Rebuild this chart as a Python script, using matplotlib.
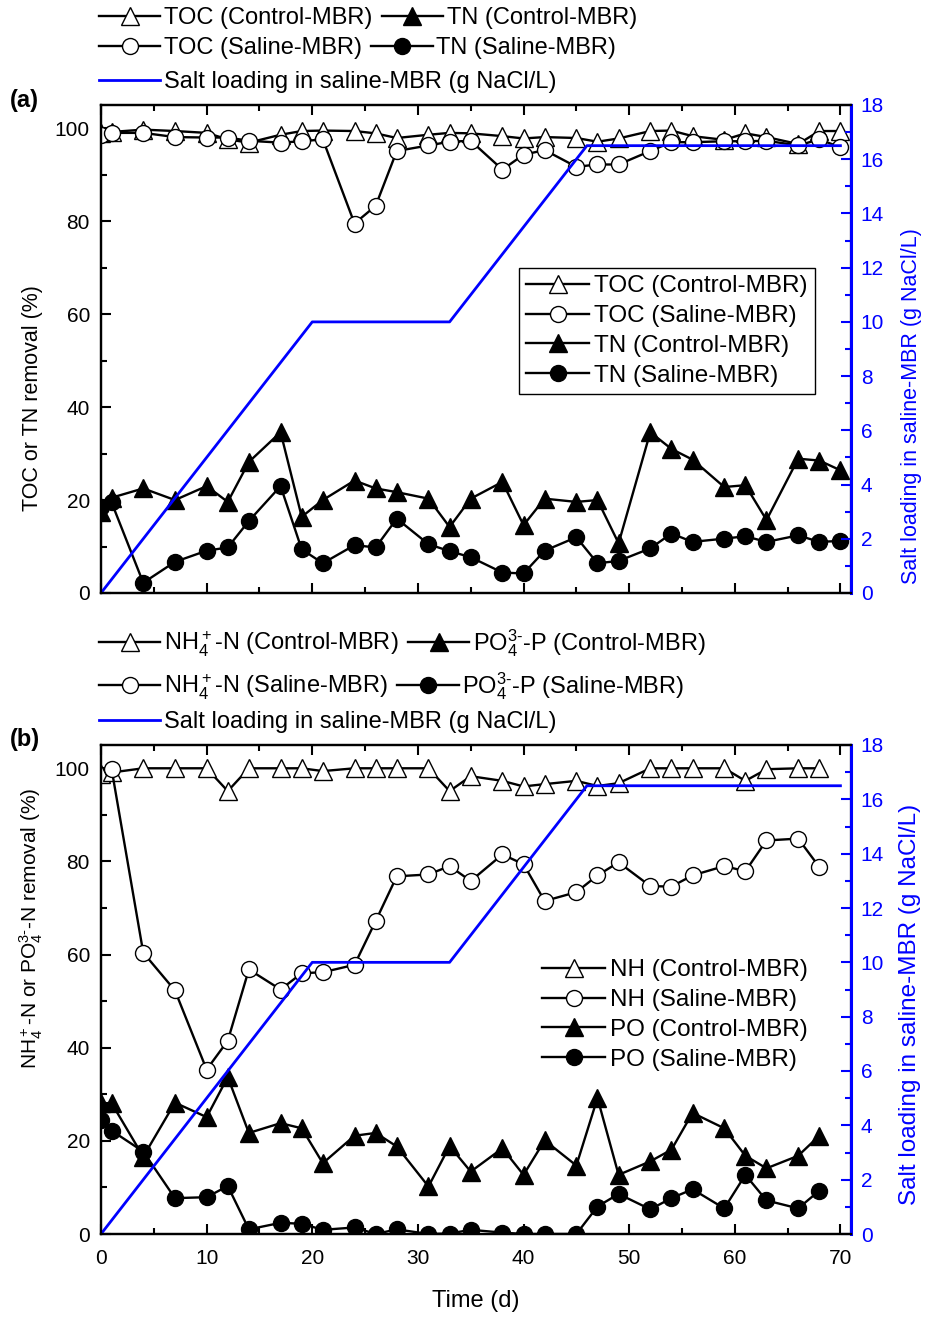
import numpy as np
import matplotlib
matplotlib.use("Agg")
import matplotlib.pyplot as plt
from matplotlib.ticker import MultipleLocator

plt.rcParams['font.family'] = ['Liberation Sans', 'DejaVu Sans']
plt.rcParams['mathtext.fontset'] = 'custom'
plt.rcParams['mathtext.rm'] = 'Liberation Sans'
plt.rcParams['mathtext.it'] = 'Liberation Sans'
plt.rcParams['mathtext.bf'] = 'Liberation Sans:bold'

# ---- data ----
days_a = [0, 1, 4, 7, 10, 12, 14, 17, 19, 21, 24, 26, 28, 31, 33, 35, 38, 40, 42, 45,
          47, 49, 52, 54, 56, 59, 61, 63, 66, 68, 70]
toc_control = [99.0, 99.2, 99.7, 99.4, 99.0, 97.6, 96.9, 98.6, 99.4, 99.5, 99.4, 98.9, 97.9, 98.6,
               99.0, 98.9, 98.3, 97.8, 98.1, 97.9, 97.1, 97.8, 99.4, 99.5, 98.3, 97.5, 98.9, 98.1,
               96.6, 99.4, 99.4]
toc_saline = [98.5, 99.0, 99.0, 98.1, 98.0, 98.0, 97.3, 96.9, 97.2, 97.6, 79.5, 83.3, 95.1, 96.3,
              97.1, 97.3, 91.1, 94.3, 95.3, 91.7, 92.2, 92.2, 95.1, 97.0, 97.0, 97.2, 97.2, 97.3,
              96.3, 97.6, 95.9]
tn_control = [17.5, 20.5, 22.5, 20.0, 23.0, 19.6, 28.2, 34.6, 16.4, 20.0, 24.2, 22.5, 21.7, 20.3,
              14.2, 20.3, 23.9, 14.6, 20.3, 19.6, 20.0, 10.7, 34.6, 31.0, 28.7, 22.8, 23.2, 15.7,
              28.9, 28.5, 26.4]
tn_saline = [18.5, 19.5, 2.2, 6.7, 9.1, 9.8, 15.5, 23.0, 9.4, 6.4, 10.3, 9.8, 16.0, 10.5, 9.0,
             7.7, 4.4, 4.2, 9.1, 12.0, 6.4, 6.9, 9.6, 12.8, 11.0, 11.7, 12.2, 11.0, 12.4, 11.0, 11.2]

days_b = [0, 1, 4, 7, 10, 12, 14, 17, 19, 21, 24, 26, 28, 31, 33, 35, 38, 40, 42, 45,
          47, 49, 52, 54, 56, 59, 61, 63, 66, 68]
nh_control = [98.7, 99.1, 100, 100, 100, 95.1, 100, 100, 100, 99.4, 100, 100, 100, 100, 95.1,
              98.3, 97.3, 96.1, 96.6, 97.3, 96.2, 96.8, 100, 100, 100, 100, 97.3, 99.8, 100, 100]
nh_saline_days = days_b[1:]
nh_saline = [99.9, 60.4, 52.3, 35.3, 41.5, 56.8, 52.5, 56.0, 56.2, 57.8, 67.2, 76.8, 77.2, 79.0,
             75.8, 81.5, 79.4, 71.5, 73.4, 77.0, 79.8, 74.7, 74.6, 77.0, 79.0, 77.9, 84.5, 84.9, 78.8]
po_control = [28.1, 28.1, 16.6, 28.2, 25.1, 33.7, 21.7, 23.8, 22.7, 15.2, 21.1, 21.7, 18.8, 10.2,
              18.9, 13.4, 18.4, 12.7, 20.1, 14.7, 29.2, 12.7, 15.6, 18.1, 26.0, 22.7, 16.8, 14.1,
              16.8, 21.1]
po_saline = [24.5, 22.2, 17.7, 7.7, 7.9, 10.3, 1.0, 2.4, 2.2, 0.9, 1.4, 0.0, 1.0, 0.0, 0.1, 0.9,
             0.3, 0.0, 0.0, 0.0, 5.9, 8.6, 5.3, 7.7, 9.6, 5.5, 12.7, 7.2, 5.5, 9.3]

salt_days = [0, 20, 33, 46, 70]
salt_load = [0, 10, 10, 16.5, 16.5]

BLUE = '#0000ff'
LW = 1.7
TRI = dict(marker='^', ms=13.5, mec='k', mew=1.0, color='k', lw=LW)
CIR = dict(marker='o', ms=11.5, mec='k', mew=1.0, color='k', lw=LW)

fig = plt.figure(figsize=(9.29, 13.21), dpi=100)
W, H = 929.0, 1321.0


def style_axes(ax, ax2):
    ax.set_xlim(0, 71)
    ax.set_ylim(0, 105)
    ax2.set_ylim(0, 18)
    ax.xaxis.set_major_locator(MultipleLocator(10))
    ax.xaxis.set_minor_locator(MultipleLocator(5))
    ax.yaxis.set_major_locator(MultipleLocator(20))
    ax.yaxis.set_minor_locator(MultipleLocator(10))
    ax2.yaxis.set_major_locator(MultipleLocator(2))
    ax2.yaxis.set_minor_locator(MultipleLocator(1))
    ax.tick_params(which='both', direction='in', top=True, right=False, width=1.5, labelsize=15)
    ax.tick_params(axis='y', pad=8)
    ax.tick_params(axis='x', pad=11)
    ax.tick_params(which='major', length=7)
    ax.tick_params(which='minor', length=4)
    ax2.tick_params(which='both', direction='in', colors=BLUE, width=1.5, labelsize=15, pad=7)
    ax2.tick_params(which='major', length=7)
    ax2.tick_params(which='minor', length=4)
    for s in ax.spines.values():
        s.set_linewidth(1.6)
    for s in ax2.spines.values():
        s.set_linewidth(1.6)
    ax2.spines['right'].set_color(BLUE)
    ax2.spines['right'].set_linewidth(2.2)


# ---------------- panel (a) ----------------
ax1 = fig.add_axes([101 / W, 1 - 593 / H, 750 / W, 488 / H])
ax1b = ax1.twinx()
l_tocc, = ax1.plot(days_a, toc_control, mfc='white', **TRI)
l_tocs, = ax1.plot(days_a, toc_saline, mfc='white', **CIR)
l_tnc, = ax1.plot(days_a, tn_control, mfc='k', **TRI)
l_tns, = ax1.plot(days_a, tn_saline, mfc='k', **CIR)
l_salt1, = ax1b.plot(salt_days, salt_load, color=BLUE, lw=2)
style_axes(ax1, ax1b)
ax1.tick_params(axis='x', labelbottom=False)
ax1.set_ylabel('TOC or TN removal (%)', fontsize=15.5)
ax1.yaxis.set_label_coords(-0.077, 0.40)
ax1b.set_ylabel('Salt loading in saline-MBR (g NaCl/L)', color=BLUE, fontsize=15.5)
ax1b.yaxis.set_label_coords(1.067, 0.383)
leg = ax1b.legend([l_tocc, l_tocs, l_tnc, l_tns],
                  ['TOC (Control-MBR)', 'TOC (Saline-MBR)', 'TN (Control-MBR)', 'TN (Saline-MBR)'],
                  loc='upper left', bbox_to_anchor=((519 - 101) / 750, (593 - 268) / 488),
                  borderaxespad=0, fontsize=17.5, handlelength=2.6, handletextpad=0.2,
                  labelspacing=0.32, borderpad=0.3, fancybox=False, edgecolor='k', framealpha=1)
leg.get_frame().set_linewidth(1.0)
fig.text(10 / W, 1 - 100 / H, '(a)', fontsize=17, fontweight='bold', va='center')

# ---------------- panel (b) ----------------
ax2 = fig.add_axes([101 / W, 1 - 1234 / H, 750 / W, 489 / H])
ax2b = ax2.twinx()
l_nhc, = ax2.plot(days_b, nh_control, mfc='white', **TRI)
l_nhs, = ax2.plot(nh_saline_days, nh_saline, mfc='white', **CIR)
l_poc, = ax2.plot(days_b, po_control, mfc='k', **TRI)
l_pos, = ax2.plot(days_b, po_saline, mfc='k', **CIR)
l_salt2, = ax2b.plot(salt_days, salt_load, color=BLUE, lw=2)
style_axes(ax2, ax2b)
ax2.set_xlabel('Time (d)', fontsize=17, labelpad=16)
ax2.set_ylabel(r'NH$_4^+$-N or PO$_4^{3\text{-}}$-N removal (%)', fontsize=15)
ax2.yaxis.set_label_coords(-0.075, 0.626)
ax2b.set_ylabel('Salt loading in saline-MBR (g NaCl/L)', color=BLUE, fontsize=17.5)
ax2b.yaxis.set_label_coords(1.064, 0.47)
ax2b.legend([l_nhc, l_nhs, l_poc, l_pos],
            ['NH (Control-MBR)', 'NH (Saline-MBR)', 'PO (Control-MBR)', 'PO (Saline-MBR)'],
            loc='upper left', bbox_to_anchor=((535 - 101) / 750, (1234 - 952) / 489),
            borderaxespad=0, fontsize=17.5, handlelength=2.6, handletextpad=0.2,
            labelspacing=0.32, borderpad=0.3, frameon=False)
fig.text(10 / W, 1 - 740 / H, '(b)', fontsize=17, fontweight='bold', va='center')


# ---------------- outer legends (one per row) ----------------
def row_legend(handles, labels, y_px):
    fig.legend(handles, labels, loc='center left', bbox_to_anchor=(99 / W, 1 - y_px / H),
               ncol=len(handles), frameon=False, fontsize=17, handlelength=2.6,
               handletextpad=0.15, columnspacing=0.4, borderpad=0, borderaxespad=0)


row_legend([l_tocc, l_tnc], ['TOC (Control-MBR)', 'TN (Control-MBR)'], 18)
row_legend([l_tocs, l_tns], ['TOC (Saline-MBR)', 'TN (Saline-MBR)'], 48)
row_legend([l_salt1], ['Salt loading in saline-MBR (g NaCl/L)'], 82)
row_legend([l_nhc, l_poc], [r'NH$_4^+$-N (Control-MBR)', r'PO$_4^{3\text{-}}$-P (Control-MBR)'], 643)
row_legend([l_nhs, l_pos], [r'NH$_4^+$-N (Saline-MBR)', r'PO$_4^{3\text{-}}$-P (Saline-MBR)'], 686)
row_legend([l_salt2], ['Salt loading in saline-MBR (g NaCl/L)'], 722)

fig.savefig('out.png', dpi=100)
